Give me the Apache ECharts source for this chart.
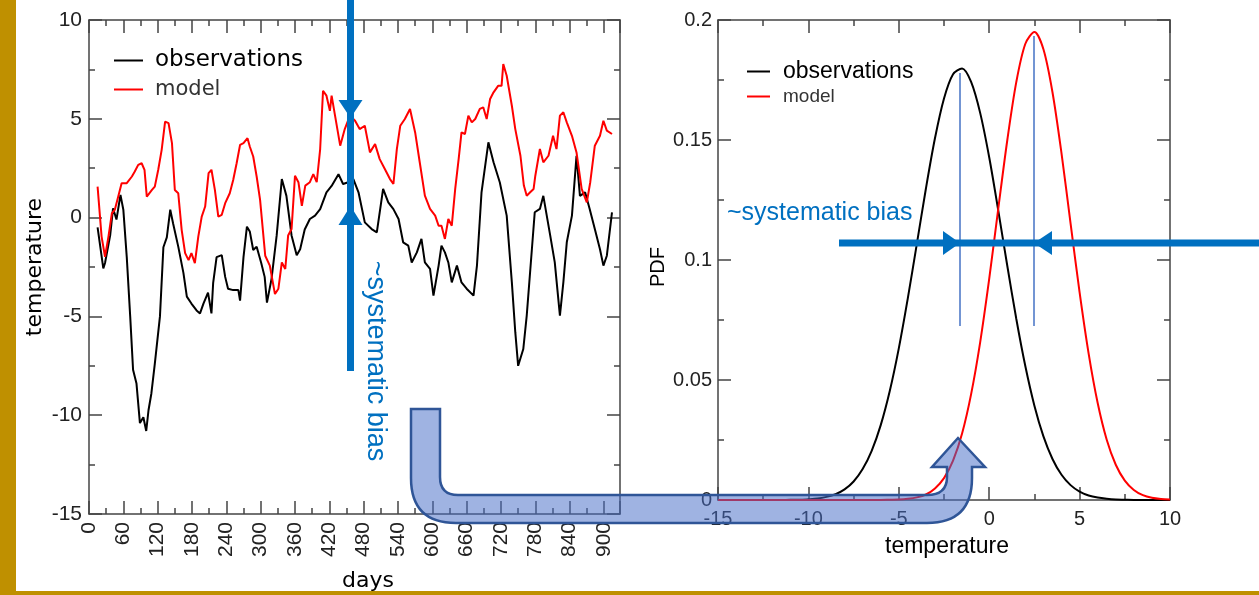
<!DOCTYPE html>
<html>
<head>
<meta charset="utf-8">
<script src="https://cdn.jsdelivr.net/npm/echarts@6/dist/echarts.min.js"></script>
<style>
  html, body { margin: 0; padding: 0; background: #fff; }
  #main { width: 1259px; height: 595px; }
</style>
</head>
<body>
<div id="main"></div>
<script>
// bent arrow shape from the slide, registered so the graphic component can draw it
echarts.graphic.registerShape('bentArrow', echarts.graphic.extendPath(
  'M411,409 L440,409 L440,477 Q440,495 458,495 L927,495 Q947,495 947,477 L947,467 L932,467 L958,438 L985,467 L972,467 L972,478 Q972,523 927,523 L456,523 Q411,523 411,478 Z', {}));

var chart = echarts.init(document.getElementById('main'));

// left panel: daily temperature series
var obsDays = [15, 25, 28, 37, 42, 48, 55, 60, 66, 72, 77, 83, 89, 95, 100, 104, 109, 115, 124, 130,
  136, 142, 147, 156, 165, 171, 179, 188, 194, 200, 208, 214, 217, 223, 232, 238, 243, 252, 261, 264,
  270, 276, 281, 287, 293, 301, 307, 311, 319, 328, 337, 345, 354, 363, 369, 377, 386, 395, 404, 415,
  424, 436, 444, 453, 462, 471, 482, 494, 503, 514, 523, 532, 541, 549, 558, 564, 573, 581, 587, 596,
  602, 611, 616, 622, 628, 634, 643, 651, 660, 672, 678, 686, 698, 707, 718, 730, 739, 745, 750, 759,
  765, 774, 779, 788, 794, 806, 814, 823, 829, 835, 844, 852, 858, 867, 875, 884, 893, 899, 905, 914];
var obsTemp = [-0.5, -2.57, -2.3, -0.9, 0.47, -0.1, 1.15, 0.4, -2.0, -5.0, -7.7, -8.4, -10.4, -10.1, -10.8, -9.75, -8.9, -7.4, -5.0, -1.5,
  -1.0, 0.4, -0.3, -1.47, -2.8, -4.0, -4.35, -4.7, -4.85, -4.35, -3.8, -4.85, -3.3, -2.0, -1.9, -3.0, -3.6, -3.67, -3.67, -4.2,
  -2.0, -0.46, -0.7, -1.64, -1.47, -2.3, -3.0, -4.3, -3.1, -0.9, 1.95, 1.1, -0.9, -1.9, -1.6, -0.6, -0.07, 0.1, 0.43, 1.28,
  1.6, 2.2, 1.7, 1.79, 1.95, 1.28, -0.24, -0.58, -0.75, 1.45, 0.77, 0.43, -0.07, -1.25, -1.42, -2.27, -1.76, -1.08, -2.27, -2.6,
  -3.95, -2.43, -1.42, -1.76, -2.27, -3.28, -2.43, -3.28, -3.6, -3.95, -2.43, 1.28, 3.81, 2.8, 1.78, 0.1, -3.28, -5.8, -7.5, -6.65,
  -4.96, -1.6, 0.27, 0.44, 1.1, -0.9, -2.27, -4.96, -3.28, -1.25, 0.1, 3.13, 1.1, 1.28, 0.44, -0.58, -1.6, -2.43, -1.93, 0.27];

var modelDays = [15, 22, 28, 34, 40, 45, 51, 57, 66, 75, 80, 86, 92, 97, 101, 110, 115, 121, 127, 133,
  139, 145, 150, 156, 162, 168, 174, 179, 185, 191, 197, 203, 209, 214, 220, 226, 232, 238, 246, 252,
  258, 264, 270, 277, 281, 287, 293, 299, 308, 316, 325, 331, 337, 343, 348, 354, 360, 366, 372, 378,
  386, 392, 398, 404, 409, 415, 421, 424, 430, 439, 447, 456, 465, 473, 482, 491, 500, 508, 517, 526,
  532, 538, 544, 552, 561, 570, 578, 587, 596, 605, 611, 616, 622, 628, 634, 640, 646, 651, 657, 663,
  669, 675, 683, 689, 695, 701, 707, 715, 721, 724, 730, 739, 745, 754, 760, 765, 771, 777, 780, 788,
  794, 803, 811, 817, 823, 829, 835, 844, 852, 861, 870, 876, 884, 893, 899, 905, 914];
var modelTemp = [1.57, -0.96, -1.98, -0.96, 0.22, 0.39, 1.06, 1.74, 1.74, 2.08, 2.33, 2.67, 2.75, 2.42, 1.06, 1.4, 1.57, 2.42, 3.43, 4.86,
  4.78, 3.77, 1.4, 1.23, -0.63, -1.8, -2.15, -1.8, -2.3, -0.96, 0.05, 0.56, 2.25, 2.42, 1.4, 0.05, 0.14, 0.73, 1.23, 1.9,
  2.75, 3.68, 3.77, 4.02, 3.6, 3.09, 2.08, 0.9, -1.93, -2.43, -3.87, -3.6, -2.27, -2.6, -0.91, -0.58, 2.12, 1.79, 0.6, 1.62,
  1.79, 2.2, 1.79, 3.47, 6.42, 6.17, 5.4, 6.17, 5.16, 3.64, 4.48, 5.16, 4.9, 4.48, 4.65, 3.3, 3.72, 2.96, 2.46, 1.95,
  1.7, 3.47, 4.65, 4.99, 5.5, 4.31, 2.8, 1.11, 0.44, 0.1, -0.41, -0.41, -1.08, -0.07, -0.41, 1.45, 2.96, 4.31, 4.23, 5.16,
  4.82, 4.99, 5.5, 5.58, 4.99, 6.0, 6.34, 6.67, 6.67, 7.77, 7.18, 5.66, 4.48, 3.13, 1.62, 1.11, 1.28, 1.45, 2.12, 3.47,
  2.8, 3.13, 4.14, 3.47, 5.16, 5.33, 4.82, 4.14, 3.3, 1.45, 0.77, 1.79, 3.64, 4.14, 4.9, 4.4, 4.23];

// right panel: PDF curves, read every 0.5 degree
var pdfX = [-15, -14.5, -14, -13.5, -13, -12.5, -12, -11.5, -11, -10.5, -10, -9.5, -9, -8.5, -8, -7.5, -7,
  -6.5, -6, -5.5, -5, -4.5, -4, -3.5, -3, -2.5, -2, -1.5, -1, -0.5, 0, 0.5, 1, 1.5, 2, 2.5, 3, 3.5,
  4, 4.5, 5, 5.5, 6, 6.5, 7, 7.5, 8, 8.5, 9, 9.5, 10];
var pdfObs = [0, 0, 0, 0, 0, 0, 0, 0, 0.0001, 0.0001, 0.0003, 0.0006, 0.0013, 0.0024, 0.0044, 0.0077, 0.0129,
  0.0205, 0.0312, 0.0454, 0.0632, 0.0841, 0.1068, 0.1298, 0.1507, 0.1673, 0.1774, 0.1798, 0.1742, 0.1613, 0.1428, 0.1207, 0.0976, 0.0754, 0.0557, 0.0393, 0.0265, 0.0171,
  0.0105, 0.0062, 0.0035, 0.0019, 0.001, 0.0005, 0.0002, 0.0001, 0, 0, 0, 0, 0];
var pdfModel = [0, 0, 0, 0, 0, 0, 0, 0, 0, 0, 0, 0, 0, 0, 0, 0, 0,
  0, 0, 0.0001, 0.0002, 0.0005, 0.0011, 0.0023, 0.0048, 0.0091, 0.0164, 0.0277, 0.0441, 0.0657, 0.0921, 0.1213, 0.1499, 0.1742, 0.1901, 0.195, 0.1878, 0.1699,
  0.1444, 0.1153, 0.0865, 0.061, 0.0404, 0.0251, 0.0147, 0.0081, 0.0042, 0.002, 0.0009, 0.0004, 0.0002];

function zip(xs, ys) {
  return xs.map(function (x, i) { return [x, ys[i]]; });
}

var axisCol = '#444';
var labelFont = 'Liberation Sans';
var blue = '#0070C0';

// every side of both frames gets inward major + minor ticks
function frameAxis(pos, gridIndex, min, max, interval, showLabel, extra) {
  var ax = {
    type: 'value',
    gridIndex: gridIndex,
    position: pos,
    min: min,
    max: max,
    interval: interval,
    splitLine: { show: false },
    axisLine: { show: true, onZero: false, lineStyle: { color: axisCol, width: 1.5 } },
    axisTick: { show: true, inside: true, length: 13, lineStyle: { color: axisCol, width: 1.5 } },
    minorTick: { show: true, splitNumber: 2, length: 6, lineStyle: { color: axisCol, width: 1.5 } },
    axisLabel: { show: showLabel, color: '#222', fontFamily: labelFont, fontSize: 20 }
  };
  if (extra) {
    for (var k in extra) ax.axisLabel[k] = extra[k];
  }
  return ax;
}

var option = {
  animation: false,
  backgroundColor: '#fff',
  grid: [
    { left: 89, top: 20, width: 531, height: 494 },
    { left: 718, top: 20, width: 452, height: 480 }
  ],
  xAxis: [
    frameAxis('bottom', 0, 0, 928, 60, true, { rotate: 90, margin: 8, fontSize: 21, showMaxLabel: false }),
    frameAxis('top', 0, 0, 928, 60, false),
    frameAxis('bottom', 1, -15, 10, 5, true, { margin: 9 }),
    frameAxis('top', 1, -15, 10, 5, false)
  ],
  yAxis: [
    frameAxis('left', 0, -15, 10, 5, true, { margin: 7, fontSize: 21 }),
    frameAxis('right', 0, -15, 10, 5, false),
    frameAxis('left', 1, 0, 0.2, 0.05, true, { margin: 6 }),
    frameAxis('right', 1, 0, 0.2, 0.05, false)
  ],
  legend: [
    {
      left: 109, top: 44, orient: 'vertical', itemGap: 7,
      itemWidth: 29, itemHeight: 2, icon: 'rect',
      selectedMode: false,
      textStyle: { fontFamily: 'DejaVu Sans', color: '#000', padding: [0, 0, 0, 7] },
      data: [
        { name: 'observations', textStyle: { fontSize: 23 } },
        { name: 'model', textStyle: { fontSize: 21, color: '#333' } }
      ]
    },
    {
      left: 742, top: 55, orient: 'vertical', itemGap: 4,
      itemWidth: 23, itemHeight: 2, icon: 'rect',
      selectedMode: false,
      textStyle: { fontFamily: labelFont, color: '#000', padding: [0, 0, 0, 8] },
      data: [
        { name: 'observations', textStyle: { fontSize: 23 } },
        { name: 'model', textStyle: { fontSize: 19, color: '#333' } }
      ]
    }
  ],
  series: [
    {
      name: 'observations', type: 'line', xAxisIndex: 0, yAxisIndex: 0,
      data: zip(obsDays, obsTemp), symbol: 'none',
      itemStyle: { color: '#000' }, lineStyle: { color: '#000', width: 2 }
    },
    {
      name: 'model', type: 'line', xAxisIndex: 0, yAxisIndex: 0,
      data: zip(modelDays, modelTemp), symbol: 'none',
      itemStyle: { color: '#ff0000' }, lineStyle: { color: '#ff0000', width: 2 }
    },
    {
      name: 'observations', type: 'line', xAxisIndex: 2, yAxisIndex: 2,
      data: zip(pdfX, pdfObs), symbol: 'none', smooth: 0.3,
      itemStyle: { color: '#000' }, lineStyle: { color: '#000', width: 2 }
    },
    {
      name: 'model', type: 'line', xAxisIndex: 2, yAxisIndex: 2,
      data: zip(pdfX, pdfModel), symbol: 'none', smooth: 0.3,
      itemStyle: { color: '#ff0000' }, lineStyle: { color: '#ff0000', width: 2 }
    }
  ],
  graphic: [
    // axis titles
    { type: 'text', x: 35, y: 267, rotation: Math.PI / 2, z: 50,
      style: { text: 'temperature', font: '22px "DejaVu Sans"', fill: '#000', align: 'center', verticalAlign: 'middle' } },
    { type: 'text', x: 368, y: 581, z: 50,
      style: { text: 'days', font: '22px "DejaVu Sans"', fill: '#000', align: 'center', verticalAlign: 'middle' } },
    { type: 'text', x: 658, y: 267, rotation: Math.PI / 2, z: 50,
      style: { text: 'PDF', font: '20px "Liberation Sans"', fill: '#000', align: 'center', verticalAlign: 'middle' } },
    { type: 'text', x: 947, y: 547, z: 50,
      style: { text: 'temperature', font: '23px "Liberation Sans"', fill: '#000', align: 'center', verticalAlign: 'middle' } },

    // vertical bias arrow on the left panel
    { type: 'rect', z: 60, shape: { x: 347, y: 0, width: 7, height: 371 }, style: { fill: blue } },
    { type: 'polygon', z: 60, shape: { points: [[338.5, 100], [362.5, 100], [350.5, 118]] }, style: { fill: blue } },
    { type: 'polygon', z: 60, shape: { points: [[338.5, 225], [362.5, 225], [350.5, 206]] }, style: { fill: blue } },
    { type: 'text', x: 375, y: 361, rotation: -Math.PI / 2, z: 60,
      style: { text: '~systematic bias', font: '27px "Liberation Sans"', fill: blue, align: 'center', verticalAlign: 'middle' } },

    // thin markers at the two peaks
    { type: 'line', z: 55, shape: { x1: 960, y1: 73, x2: 960, y2: 326 }, style: { stroke: '#4472C4', lineWidth: 1.5 } },
    { type: 'line', z: 55, shape: { x1: 1034, y1: 36, x2: 1034, y2: 326 }, style: { stroke: '#4472C4', lineWidth: 1.5 } },

    // horizontal bias arrows on the right panel
    { type: 'rect', z: 60, shape: { x: 839, y: 239.5, width: 420, height: 7 }, style: { fill: blue } },
    { type: 'polygon', z: 60, shape: { points: [[943, 231], [943, 255], [960, 243]] }, style: { fill: blue } },
    { type: 'polygon', z: 60, shape: { points: [[1052, 231], [1052, 255], [1034, 243]] }, style: { fill: blue } },
    { type: 'text', x: 727, y: 213, z: 60,
      style: { text: '~systematic bias', font: '25px "Liberation Sans"', fill: blue, align: 'left', verticalAlign: 'middle' } },

    // bent arrow joining the two panels
    { type: 'bentArrow', z: 70,
      style: { fill: 'rgba(70,110,200,0.52)', stroke: '#2F5597', lineWidth: 2.5 } },

    // gold slide frame
    { type: 'rect', z: 90, shape: { x: 0, y: 0, width: 16, height: 595 }, style: { fill: '#BF9000' } },
    { type: 'rect', z: 90, shape: { x: 0, y: 591, width: 1259, height: 4 }, style: { fill: '#BF9000' } }
  ]
};

chart.setOption(option);
</script>
</body>
</html>
